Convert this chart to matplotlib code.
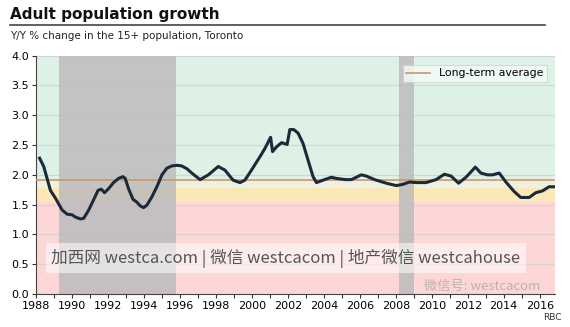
import numpy as np
import matplotlib.pyplot as plt
from matplotlib.lines import Line2D

# year-over-year change in 15+ population, Toronto
years = [1988.2, 1988.43, 1988.8, 1989.08, 1989.45, 1989.73, 1990.0, 1990.2, 1990.47, 1990.65,
         1990.93, 1991.2, 1991.45, 1991.63, 1991.81, 1992.04, 1992.31, 1992.59, 1992.83, 1992.96,
         1993.14, 1993.39, 1993.61, 1993.79, 1993.98, 1994.16, 1994.44, 1994.72, 1995.0, 1995.27,
         1995.55, 1995.83, 1996.1, 1996.4, 1996.66, 1997.12, 1997.58, 1998.13, 1998.5, 1998.96,
         1999.34, 1999.61, 1999.98, 2000.44, 2000.72, 2001.04, 2001.15, 2001.37, 2001.65, 2001.96,
         2002.11, 2002.33, 2002.57, 2002.84, 2003.12, 2003.4, 2003.59, 2003.95, 2004.42, 2004.7,
         2005.2, 2005.53, 2006.08, 2006.36, 2006.82, 2007.47, 2008.02, 2008.39, 2008.76, 2009.13,
         2009.68, 2010.24, 2010.7, 2011.07, 2011.49, 2011.9, 2012.18, 2012.42, 2012.73, 2013.1,
         2013.38, 2013.75, 2014.12, 2014.58, 2014.95, 2015.41, 2015.78, 2016.15, 2016.52, 2016.85]
growth = [2.28, 2.14, 1.74, 1.61, 1.41, 1.34, 1.33, 1.29, 1.26, 1.27,
          1.41, 1.58, 1.74, 1.76, 1.70, 1.77, 1.87, 1.94, 1.97, 1.94,
          1.77, 1.59, 1.54, 1.48, 1.45, 1.49, 1.63, 1.80, 2.00, 2.11,
          2.15, 2.16, 2.15, 2.10, 2.03, 1.92, 2.00, 2.14, 2.08, 1.91,
          1.87, 1.91, 2.08, 2.30, 2.44, 2.63, 2.39, 2.47, 2.54, 2.51,
          2.76, 2.76, 2.70, 2.53, 2.25, 1.97, 1.87, 1.91, 1.96, 1.94,
          1.92, 1.92, 2.00, 1.98, 1.92, 1.86, 1.82, 1.84, 1.88, 1.87,
          1.87, 1.92, 2.01, 1.98, 1.86, 1.96, 2.05, 2.13, 2.03, 2.00,
          2.00, 2.03, 1.88, 1.72, 1.62, 1.62, 1.70, 1.73, 1.80, 1.80]
long_term_avg = 1.92
recessions = [(1989.26, 1995.77), (2008.2, 2009.0)]
# background zones (low, high, colour)
zones = [(1.95, 4.0, '#ddf1e6'), (1.78, 1.95, '#eef0e2'), (1.55, 1.78, '#fce7b6'), (0.0, 1.55, '#fdd6d6')]
tick_years = list(range(1988, 2017, 2))

fig = plt.figure(figsize=(5.7, 3.27), dpi=100)
ax = fig.add_axes([36/570, 33/327, 519/570, 238.3/327])

for lo, hi, c in zones:
    ax.axhspan(lo, hi, color=c, lw=0, zorder=0)
for y in np.arange(0.5, 4.01, 0.5):
    ax.axhline(y, color='#c9cfcb', lw=0.8, alpha=0.7, zorder=1)
for a, b in recessions:
    ax.axvspan(a, b, color='#bdbcbc', alpha=0.85, lw=0, zorder=2)

ax.axhline(long_term_avg, color='#c49a6c', lw=1.2, zorder=3, label='Long-term average')
ax.plot(years, growth, color='#1b2a3a', lw=2.2, solid_joinstyle='round', zorder=4)

ax.set_xlim(1988, 2016.85)
ax.set_ylim(0, 4.0)
ax.set_yticks(np.arange(0, 4.01, 0.5))
ax.set_yticklabels(['%.1f' % v for v in np.arange(0, 4.01, 0.5)], fontsize=8)
ax.set_xticks(tick_years)
ax.set_xticklabels([str(y) for y in tick_years], fontsize=8)
ax.set_xticks(range(1988, 2017), minor=True)
ax.tick_params(axis='both', length=3, width=0.8, color='#333333', pad=2)
ax.tick_params(axis='x', which='minor', length=3, width=0.8, color='#333333')
for s in ['top', 'right']:
    ax.spines[s].set_visible(False)
ax.spines['left'].set_color('#444444')
ax.spines['bottom'].set_color('#444444')

leg = ax.legend(loc='upper right', fontsize=7.8, frameon=True, fancybox=False,
                handlelength=2.2, borderpad=0.35, bbox_to_anchor=(0.995, 0.985))
leg.get_frame().set_edgecolor('#cccccc')
leg.get_frame().set_facecolor('#f6fbf8')
leg.get_frame().set_linewidth(0.6)

fig.text(10/570, 1 - 14/327, 'Adult population growth', fontsize=11, fontweight='bold',
         va='center', ha='left', color='#111111')
fig.add_artist(Line2D([10/570, 545/570], [1 - 25/327, 1 - 25/327], color='#444444', lw=1.2))
fig.text(10/570, 1 - 36/327, 'Y/Y % change in the 15+ population, Toronto', fontsize=7.5,
         va='center', ha='left', color='#222222')
fig.text(562/570, 1 - 318/327, 'RBC', fontsize=6.5, ha='right', va='center', color='#333333')

# watermark overlay
wm_font = ['Noto Sans CJK SC', 'DejaVu Sans']
fig.text(286/570, 1 - 258/327, '加西网 westca.com | 微信 westcacom | 地产微信 westcahouse',
         fontsize=12, ha='center', va='center', color='#555555', family=wm_font,
         bbox=dict(boxstyle='square,pad=0.35', facecolor='white', edgecolor='none', alpha=0.55))
fig.text(540/570, 1 - 286/327, '微信号: westcacom', fontsize=9.5, ha='right', va='center',
         color='#aaaaaa', alpha=0.8, family=wm_font)

fig.savefig('out.png', dpi=100)
